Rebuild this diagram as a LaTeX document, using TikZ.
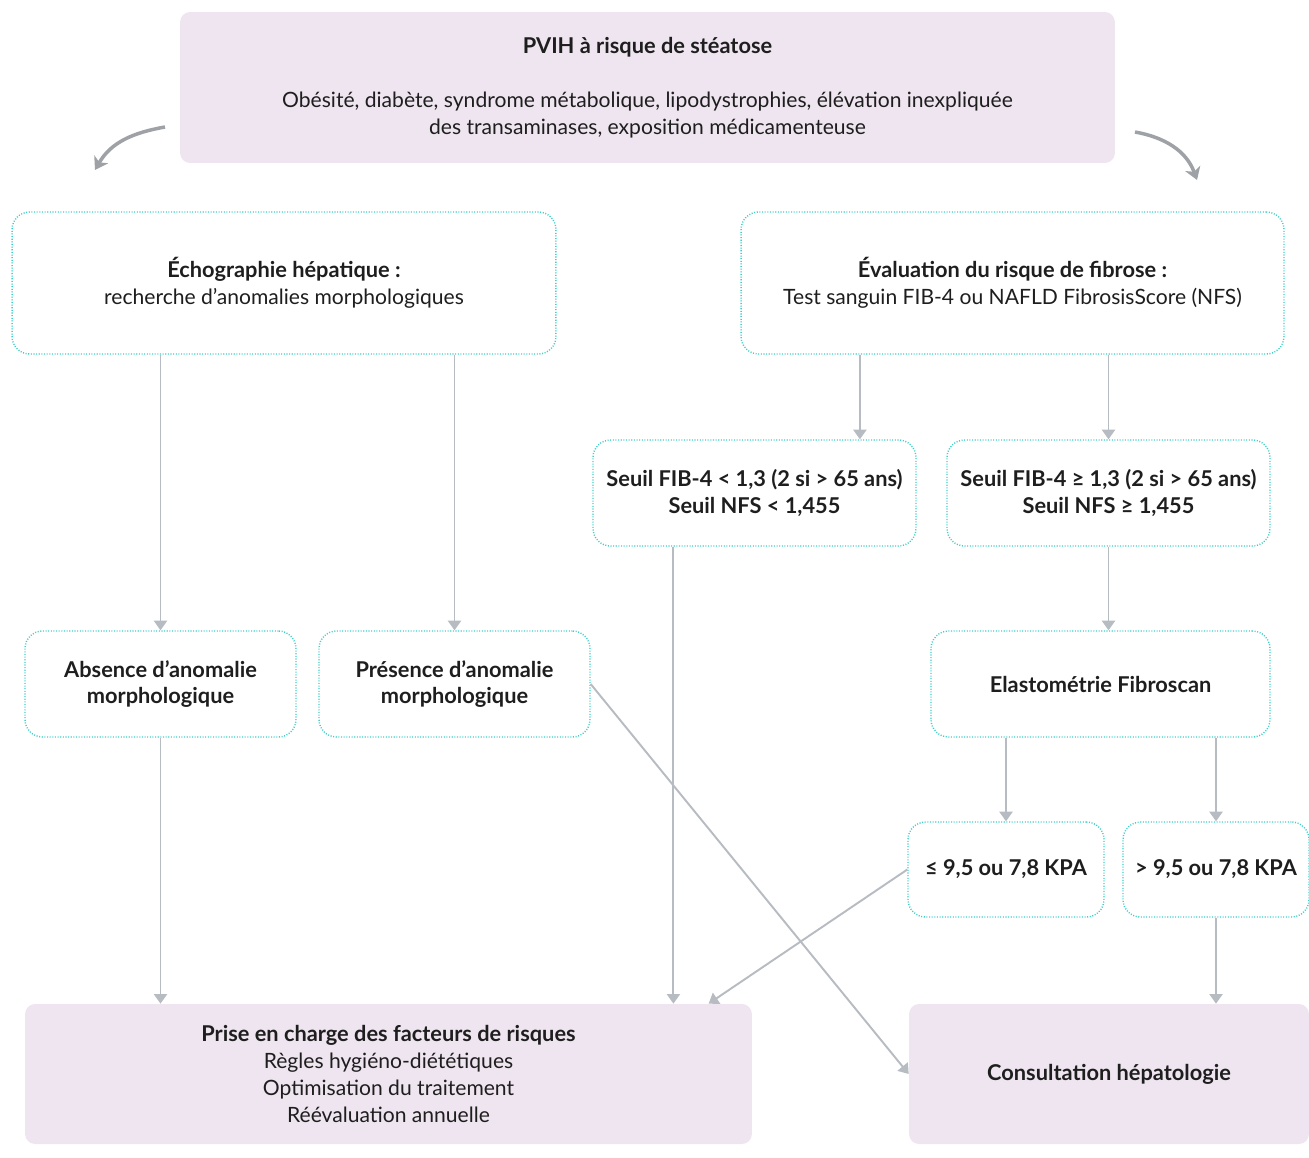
\documentclass[tikz,border=0pt]{standalone}
\usepackage{fontspec}
\setmainfont{Lato}
\usetikzlibrary{arrows.meta,calc}
\definecolor{lavande}{HTML}{EFE5F0}
\definecolor{turquoise}{HTML}{3ECFC8}
\definecolor{gris}{HTML}{B7BCC2}
\definecolor{grisfonce}{HTML}{9EA2A6}
\definecolor{encre}{HTML}{1E1E1E}
\begin{document}
\begin{tikzpicture}[x=0.02cm,y=0.02cm,
  every node/.style={text=encre,font=\fontsize{12}{15.3}\selectfont,align=center},
  gras/.style={font=\fontsize{12.4}{15.3}\selectfont\bfseries},
  pale/.style={fill=lavande,rounded corners=0.2cm,inner sep=0pt},
  cadre/.style={draw=turquoise,line width=0.8pt,dash pattern=on 0.6pt off 0.9pt,rounded corners=0.35cm,inner sep=0pt},
  lien/.style={draw=gris,line width=1.1pt,-{Triangle[length=5.5pt,width=7.5pt]}},
  courbe/.style={draw=grisfonce,line width=2pt,-{Stealth[length=7pt,width=9pt,inset=2pt]}}]
\useasboundingbox (0,0) rectangle (1309,-1157);
\node[pale,minimum width=18.7cm,minimum height=3.02cm] (risque) at (647.5,-87.5)
  {{\fontsize{12.4}{15.3}\selectfont\bfseries PVIH à risque de stéatose}\\[15.3pt]
   Obésité, diabète, syndrome métabolique, lipodystrophies, élévation inexpliquée\\
   des transaminases, exposition médicamenteuse};
\node[cadre,minimum width=10.88cm,minimum height=2.84cm] (echo) at (284,-283)
  {{\fontsize{12.4}{15.3}\selectfont\bfseries Échographie hépatique :}\\ recherche d'anomalies morphologiques};
\node[cadre,minimum width=10.86cm,minimum height=2.84cm] (eval) at (1012.5,-283)
  {{\fontsize{12.4}{15.3}\selectfont\bfseries Évaluation du risque de fibrose :}\\ Test sanguin FIB-4 ou NAFLD FibrosisScore (NFS)};
\node[cadre,gras,minimum width=6.46cm,minimum height=2.12cm] (seuilbas) at (754.5,-493)
  {Seuil FIB-4 < 1,3 (2 si > 65 ans)\\ Seuil NFS < 1,455};
\node[cadre,gras,minimum width=6.46cm,minimum height=2.12cm] (seuilhaut) at (1108.5,-493)
  {Seuil FIB-4 ≥ 1,3 (2 si > 65 ans)\\ Seuil NFS ≥ 1,455};
\node[cadre,gras,minimum width=5.42cm,minimum height=2.12cm] (absence) at (160.5,-684)
  {Absence d'anomalie\\ morphologique};
\node[cadre,gras,minimum width=5.42cm,minimum height=2.12cm] (presence) at (454.5,-684)
  {Présence d'anomalie\\ morphologique};
\node[cadre,gras,minimum width=6.78cm,minimum height=2.12cm] (elasto) at (1100.5,-684)
  {Elastométrie Fibroscan};
\node[cadre,gras,minimum width=3.92cm,minimum height=1.9cm] (kpainf) at (1006,-869.5)
  {≤ 9,5 ou 7,8 KPA};
\node[cadre,gras,minimum width=3.72cm,minimum height=1.9cm] (kpasup) at (1216,-869.5)
  {> 9,5 ou 7,8 KPA};
\node[pale,minimum width=14.54cm,minimum height=2.8cm] (prise) at (388.5,-1074)
  {{\fontsize{12.4}{15.3}\selectfont\bfseries Prise en charge des facteurs de risques}\\ Règles hygiéno-diététiques\\
   Optimisation du traitement\\ Réévaluation annuelle};
\node[pale,gras,minimum width=8cm,minimum height=2.8cm] (consult) at (1109,-1074)
  {Consultation hépatologie};
\coordinate (gdep) at (165,-127);
\coordinate (garr) at (95,-170);
\coordinate (ddep) at (1135,-132);
\coordinate (darr) at (1197,-180);
\draw[courbe] (gdep) to[out=190,in=60] (garr);
\draw[courbe] (ddep) to[out=-10,in=110] (darr);
\coordinate (versbas) at ($(seuilbas.north west)!0.825!(seuilbas.north east)$);
\coordinate (depbas) at ($(seuilbas.south west)!0.25!(seuilbas.south east)$);
\coordinate (arrprise) at ($(prise.north west)!0.94!(prise.north east)$);
\draw[lien] (absence.north |- echo.south) -- (absence.north);
\draw[lien] (presence.north |- echo.south) -- (presence.north);
\draw[lien] (versbas |- eval.south) -- (versbas);
\draw[lien] (seuilhaut.north |- eval.south) -- (seuilhaut.north);
\draw[lien] (seuilhaut.south) -- (seuilhaut.south |- elasto.north);
\draw[lien] (kpainf.north |- elasto.south) -- (kpainf.north);
\draw[lien] (kpasup.north |- elasto.south) -- (kpasup.north);
\draw[lien] (kpasup.south) -- (kpasup.south |- consult.north);
\draw[lien] (absence.south) -- (absence.south |- prise.north);
\draw[lien] (depbas) -- (depbas |- prise.north);
\draw[lien] (kpainf.west) -- (arrprise);
\draw[lien] (presence.east) -- (consult.west);
\end{tikzpicture}
\end{document}
